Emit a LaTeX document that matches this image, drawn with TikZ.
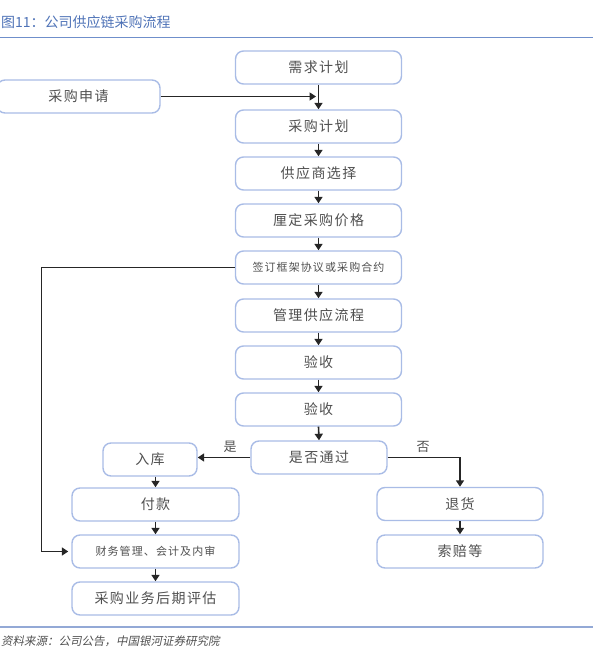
\documentclass[tikz,border=0pt]{standalone}
\usepackage{fontspec}
\usetikzlibrary{arrows.meta}
\newfontfamily\cjk[LetterSpace=10]{Noto Sans CJK SC}
\newfontfamily\cjkplain{Noto Sans CJK SC}
\newfontfamily\cjksl[FakeSlant=0.2]{Noto Sans CJK SC}
\definecolor{boxblue}{HTML}{A9BCE6}
\definecolor{titleblue}{HTML}{4F73B7}
\definecolor{rulebl}{HTML}{6F8FCB}
\definecolor{rulebl2}{HTML}{93A9D6}
\definecolor{txtgray}{HTML}{505050}
\definecolor{arrgray}{HTML}{262626}
\begin{document}
\begin{tikzpicture}[x=1pt,y=-1pt,
  flowbox/.style={draw=boxblue, line width=1.4pt, fill=white, rounded corners=8pt,
    minimum height=33pt, inner sep=0pt, text=txtgray, font=\cjk\fontsize{14}{16}\selectfont},
  smalltxt/.style={font=\cjk\fontsize{11}{13}\selectfont},
  arr/.style={draw=arrgray, line width=1.6pt, -{Triangle[length=6.5pt,width=8pt]}},
  lbl/.style={text=txtgray, font=\cjkplain\fontsize{13}{15}\selectfont, inner sep=0pt}]
\useasboundingbox (0,0) rectangle (593,658);
% title and rules
\node[anchor=west, inner sep=0pt, text=titleblue, font=\cjkplain\fontsize{14}{16}\selectfont] (title) at (1,22) {图11：公司供应链采购流程};
\draw[rulebl, line width=1pt] (0,38) -- (593,38);
\draw[rulebl2, line width=1.6pt] (0,627) -- (593,627);
\node[anchor=west, inner sep=0pt, text=txtgray, font=\cjksl\fontsize{11.5}{13}\selectfont] (src) at (1,641) {资料来源：公司公告，中国银河证券研究院};
% main column
\node[flowbox, minimum width=166pt] (n1) at (318.5,67.5) {需求计划};
\node[flowbox, minimum width=166pt] (n2) at (318.5,126.5) {采购计划};
\node[flowbox, minimum width=166pt] (n3) at (318.5,173.5) {供应商选择};
\node[flowbox, minimum width=166pt] (n4) at (318.5,220.5) {厘定采购价格};
\node[flowbox, minimum width=166pt, smalltxt] (n5) at (318.5,267.5) {签订框架协议或采购合约};
\node[flowbox, minimum width=166pt] (n6) at (318.5,315.5) {管理供应流程};
\node[flowbox, minimum width=166pt] (n7) at (318.5,362.5) {验收};
\node[flowbox, minimum width=166pt] (n8) at (318.5,409.5) {验收};
\node[flowbox, minimum width=136pt] (n9) at (319,457.5) {是否通过};
% left
\node[flowbox, minimum width=163pt] (sq) at (78.5,96.5) {采购申请};
\node[flowbox, minimum width=94pt] (rk) at (150,459.5) {入库};
\node[flowbox, minimum width=167pt] (fk) at (155.5,504.5) {付款};
\node[flowbox, minimum width=167pt, smalltxt] (cw) at (155.5,551.5) {财务管理、会计及内审};
\node[flowbox, minimum width=167pt] (pg) at (155.5,598.5) {采购业务后期评估};
% right
\node[flowbox, minimum width=166pt] (th) at (460,504) {退货};
\node[flowbox, minimum width=166pt] (sp) at (460,551.5) {索赔等};
% connectors
\coordinate (join) at (316,96.5);
\draw[arr] (sq.east) -- (join);
\foreach \a/\b in {n1/n2,n2/n3,n3/n4,n4/n5,n5/n6,n6/n7,n7/n8,n8/n9,fk/cw,cw/pg,th/sp}
  \draw[arr] (\a.south) -- (\b.north);
\draw[arr] (fk.north |- rk.south) -- (fk.north);
\coordinate (lcorner) at (41.5,267.5);
\draw[arr] (n5.west) -- (lcorner) |- ([xshift=-3pt]cw.west);
\draw[arr] (n9.west) -- (n9.west -| rk.east);
\draw[arr] (n9.east) -| (th.north);
\node[lbl] (yes) at (230,447) {是};
\node[lbl] (no) at (423,447) {否};
\end{tikzpicture}
\end{document}
